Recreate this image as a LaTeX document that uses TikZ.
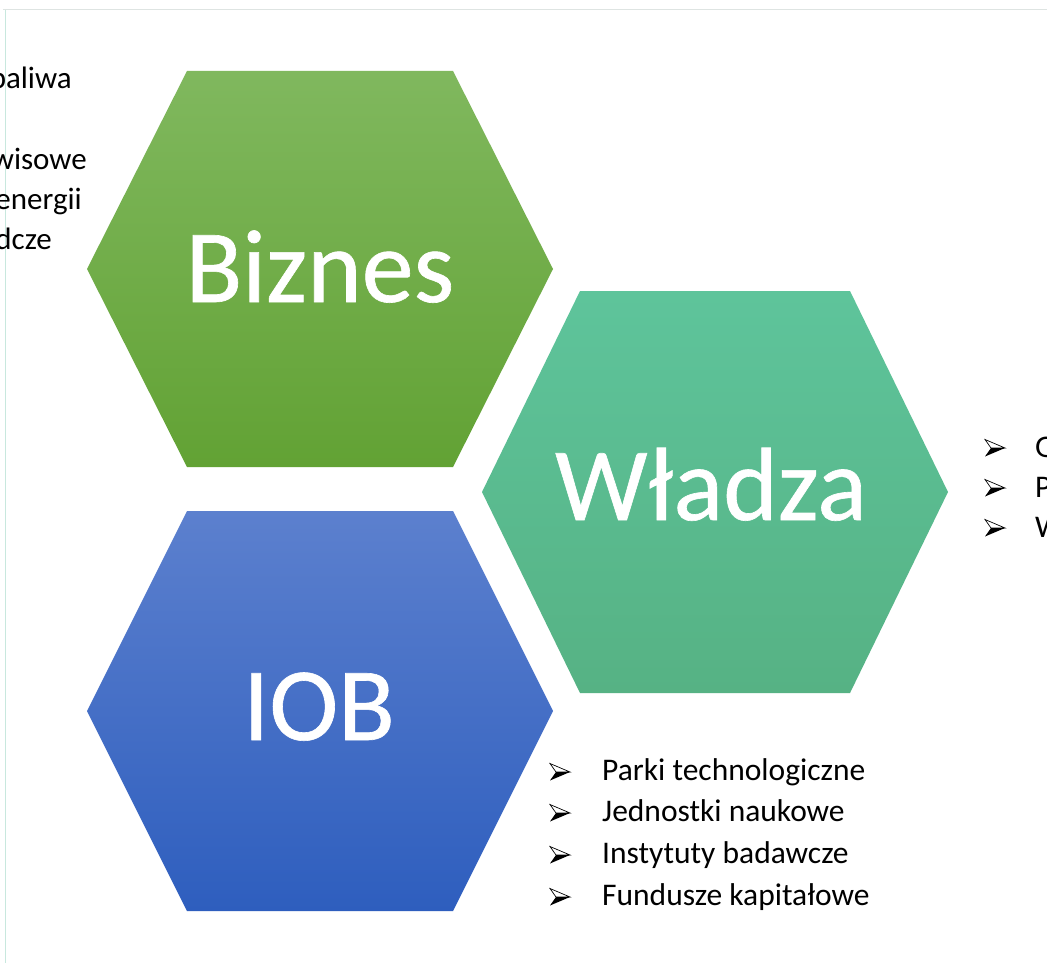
\documentclass[tikz,border=0pt]{standalone}
\usepackage{fontspec}
\setmainfont{Carlito}
\newfontfamily\headfont[FakeBold=0.6]{Carlito}
\definecolor{bizTop}{RGB}{128,184,94}
\definecolor{bizBot}{RGB}{98,162,52}
\definecolor{wlTop}{RGB}{94,196,155}
\definecolor{wlBot}{RGB}{86,178,132}
\definecolor{iobTop}{RGB}{92,128,206}
\definecolor{iobBot}{RGB}{46,94,190}
\definecolor{frameTop}{RGB}{222,228,226}
\definecolor{frameLeft}{RGB}{200,232,222}
\tikzset{
  hexlabel/.style={text=white, font=\headfont\fontsize{104}{104}\selectfont, anchor=base, inner sep=0pt},
  listtext/.style={text=black, font=\fontsize{31.5}{31.5}\selectfont, anchor=base west, inner sep=0pt},
  lefttext/.style={text=black, font=\fontsize{31}{31}\selectfont, anchor=base east, inner sep=0pt},
  bul/.pic={
    \filldraw[fill=white,draw=black,line width=0.7pt,line join=miter] (0,-8.5) -- (20,0) -- (6,0) -- cycle;
    \fill[black] (6,0) -- (20,0) -- (0,8.5) -- cycle;
  }
}
\begin{document}
\begin{tikzpicture}[x=1pt,y=-1pt]
\useasboundingbox (0,0) rectangle (1047,963);
\clip (0,0) rectangle (1047,963);
\fill[white] (0,0) rectangle (1047,963);
\draw[line width=1pt, frameTop] (3,10) -- (1047,10);
\draw[line width=1pt, frameLeft] (5,10) -- (5,963);

% hexagons
\path[shift={(320,269)}, top color=bizTop, bottom color=bizBot]
  (-233,0) -- (-133,-198) -- (133,-198) -- (233,0) -- (133,198) -- (-133,198) -- cycle;
\path[shift={(715,492)}, top color=wlTop, bottom color=wlBot]
  (-233,0) -- (-135,-201) -- (135,-201) -- (233,0) -- (135,201) -- (-135,201) -- cycle;
\path[shift={(320,711)}, top color=iobTop, bottom color=iobBot]
  (-233,0) -- (-133,-200) -- (133,-200) -- (233,0) -- (133,200) -- (-133,200) -- cycle;

\node[hexlabel] (biz) at (320,302) {Biznes};
\node[hexlabel] (wl) at (711,520) {Władza};
\node[hexlabel] (iob) at (319,740) {IOB};

% left clipped text
\node[lefttext] (l1) at (72,89) {paliwa};
\node[lefttext] (l2) at (87,169) {wisowe};
\node[lefttext] (l3) at (82,209) {energii};
\node[lefttext] (l4) at (52,249) {dcze};

% right clipped list
\pic at (985,448) {bul};
\pic at (985,488) {bul};
\pic at (985,528) {bul};
\node[listtext] (r1) at (1035,457) {G};
\node[listtext] (r2) at (1035,497) {P};
\node[listtext] (r3) at (1035,537) {W};

% bottom list
\pic at (550,772) {bul};
\pic at (550,813) {bul};
\pic at (550,855) {bul};
\pic at (550,897) {bul};
\node[listtext] (b1) at (602,780) {Parki technologiczne};
\node[listtext] (b2) at (602,821) {Jednostki naukowe};
\node[listtext] (b3) at (602,863) {Instytuty badawcze};
\node[listtext] (b4) at (602,905) {Fundusze kapitałowe};
\end{tikzpicture}
\end{document}
